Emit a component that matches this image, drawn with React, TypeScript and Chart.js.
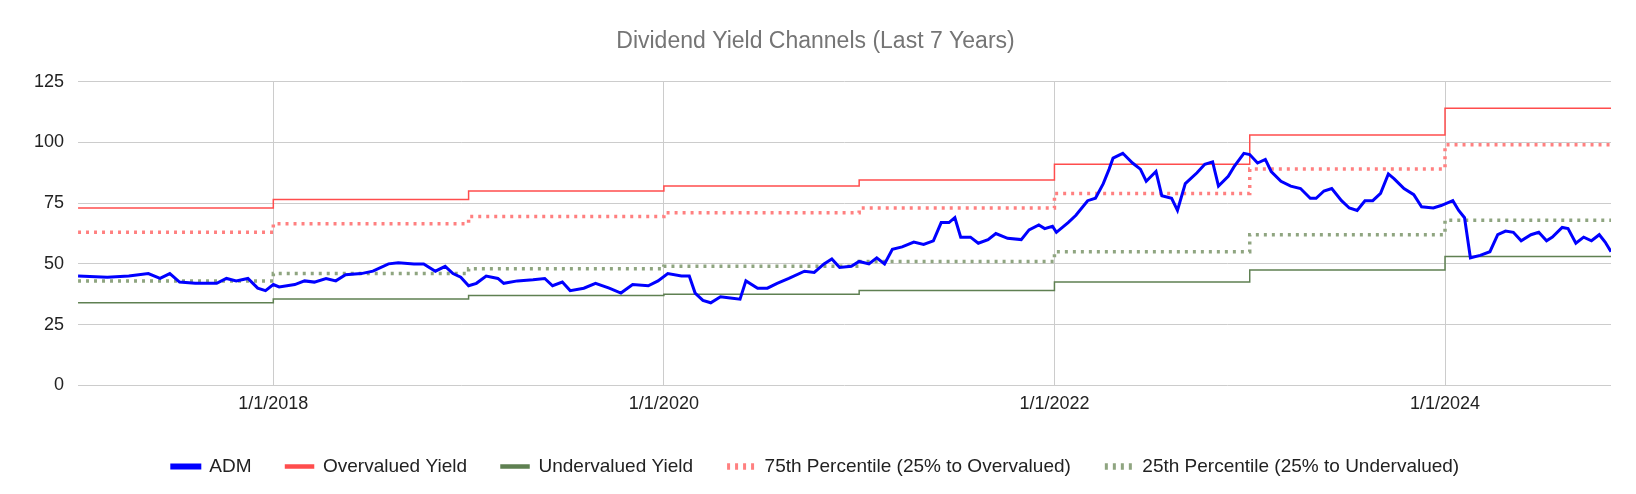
import React, { useEffect, useRef } from "react";
import { Chart, registerables } from "chart.js";
Chart.register(...registerables);

const admDates = [2017.00,2017.15,2017.26,2017.36,2017.42,2017.47,2017.52,2017.60,2017.71,2017.76,2017.81,2017.87,2017.92,2017.96,2018.00,2018.03,2018.11,2018.16,2018.21,2018.27,2018.32,2018.37,2018.45,2018.51,2018.59,2018.64,2018.72,2018.77,2018.83,2018.88,2018.92,2018.96,2019.00,2019.04,2019.09,2019.15,2019.18,2019.25,2019.33,2019.39,2019.43,2019.48,2019.52,2019.59,2019.65,2019.72,2019.78,2019.84,2019.92,2019.97,2020.02,2020.09,2020.13,2020.16,2020.20,2020.24,2020.29,2020.34,2020.39,2020.42,2020.48,2020.53,2020.58,2020.64,2020.72,2020.77,2020.82,2020.86,2020.90,2020.96,2021.00,2021.05,2021.09,2021.13,2021.17,2021.22,2021.28,2021.33,2021.38,2021.42,2021.46,2021.49,2021.52,2021.57,2021.61,2021.66,2021.70,2021.76,2021.83,2021.87,2021.92,2021.95,2021.99,2022.01,2022.07,2022.11,2022.17,2022.21,2022.25,2022.28,2022.30,2022.35,2022.40,2022.44,2022.47,2022.52,2022.55,2022.60,2022.63,2022.67,2022.73,2022.77,2022.81,2022.84,2022.89,2022.92,2022.97,2023.00,2023.04,2023.08,2023.11,2023.16,2023.21,2023.26,2023.31,2023.34,2023.38,2023.42,2023.47,2023.51,2023.55,2023.59,2023.63,2023.67,2023.71,2023.74,2023.79,2023.84,2023.88,2023.94,2023.98,2024.04,2024.07,2024.10,2024.13,2024.18,2024.23,2024.27,2024.31,2024.35,2024.39,2024.44,2024.48,2024.52,2024.55,2024.60,2024.63,2024.67,2024.71,2024.75,2024.79,2024.82,2024.85];
const admValues = [45,44.5,45,46,44,46,42.5,42,42,44,43,44,40,39,41.5,40.5,41.5,43,42.5,44,43,45.5,46,47,50,50.5,50,50,47,49,46,44.5,41,42,45,44,42,43,43.5,44,41,42.5,39,40,42,40,38,41.5,41,43,46,45,45,38,35,34,36.5,36,35.5,43,40,40,42,44,47,46.5,50,52,48.5,49,51,50,52.5,50,56,57,59,58,59.5,67,67,69,61,61,58.5,60,62.5,60.5,60,64,66,64.5,65.5,63,67,70,76,77,83,89,93.5,95.5,91.5,89,84,88,78,77,72,83,87.5,91,92,82,86,90,95.5,95,91.5,93,88,84,82,81,77,77,80,81,76,73,72,76,76,79,87,85,81,78.5,73.5,73,74,76,72,69,52.5,53.5,55,62,63.5,63,59.5,62,63,59.5,61,65,64.5,58.5,61,59.5,62,59,55];

const stepDates = [2017.0, 2018.0, 2019.0, 2020.0, 2021.0, 2022.0, 2023.0, 2024.0, 2024.85];
const overvalued = [73, 76.5, 80, 82, 84.5, 91, 103, 114, 114];
const p75 = [63, 66.5, 69.5, 71, 73, 79, 89, 99, 99];
const undervalued = [34, 35.5, 37, 37.5, 39, 42.5, 47.5, 53, 53];
const p25 = [43, 46, 48, 49, 51, 55, 62, 68, 68];
const xTicks = [2018, 2020, 2022, 2024];

const pts = (xs: number[], ys: number[]) => xs.map((x, i) => ({ x, y: ys[i] }));

export default function App() {
  const ref = useRef<HTMLCanvasElement>(null);
  useEffect(() => {
    const font = "Arial, 'Liberation Sans', sans-serif";
    Chart.defaults.font.family = font;
    const stepDs = (label: string, data: number[], color: string, dotted: boolean) => ({
      label,
      data: pts(stepDates, data),
      borderColor: color,
      backgroundColor: dotted ? "transparent" : color,
      borderWidth: dotted ? 3.5 : 1.5,
      borderDash: dotted ? [3, 5] : [],
      stepped: "before" as const,
      pointRadius: 0,
    });
    const chart = new Chart(ref.current!, {
      type: "line",
      data: {
        datasets: [
          { label: "ADM", data: pts(admDates, admValues), borderColor: "#0000ff", backgroundColor: "#0000ff", borderWidth: 3, pointRadius: 0, tension: 0 },
          stepDs("Overvalued Yield", overvalued, "#ff4d4d", false),
          stepDs("Undervalued Yield", undervalued, "#5f8052", false),
          stepDs("75th Percentile (25% to Overvalued)", p75, "#ff8080", true),
          stepDs("25th Percentile (25% to Undervalued)", p25, "#8fa580", true),
        ] as any,
      },
      options: {
        animation: false,
        responsive: false,
        layout: { padding: { left: 12, right: 17, top: 10, bottom: 0 } },
        plugins: {
          title: { display: true, text: "Dividend Yield Channels (Last 7 Years)", color: "#757575", font: { size: 23, weight: "normal" }, padding: { top: 10, bottom: 26 } },
          legend: {
            position: "bottom",
            labels: { color: "#222", font: { size: 19 }, boxWidth: 28, boxHeight: 3, padding: 34 },
          },
          tooltip: { enabled: false },
        },
        scales: {
          x: {
            type: "linear",
            min: 2017.0,
            max: 2024.85,
            afterBuildTicks: (s: any) => { s.ticks = xTicks.map((v) => ({ value: v })); },
            ticks: { callback: (v: any) => "1/1/" + v, color: "#222", font: { size: 18 }, maxRotation: 0, padding: 8 },
            grid: { color: "#cccccc", drawTicks: false },
            border: { display: false },
          },
          y: {
            min: 0,
            max: 125,
            ticks: { stepSize: 25, color: "#222", font: { size: 18 }, padding: 14 },
            grid: { color: "#cccccc", drawTicks: false },
            border: { display: false },
          },
        },
      },
    });
    return () => chart.destroy();
  }, []);
  return <canvas ref={ref} width={1620} height={478} style={{ display: "block" }} />;
}
